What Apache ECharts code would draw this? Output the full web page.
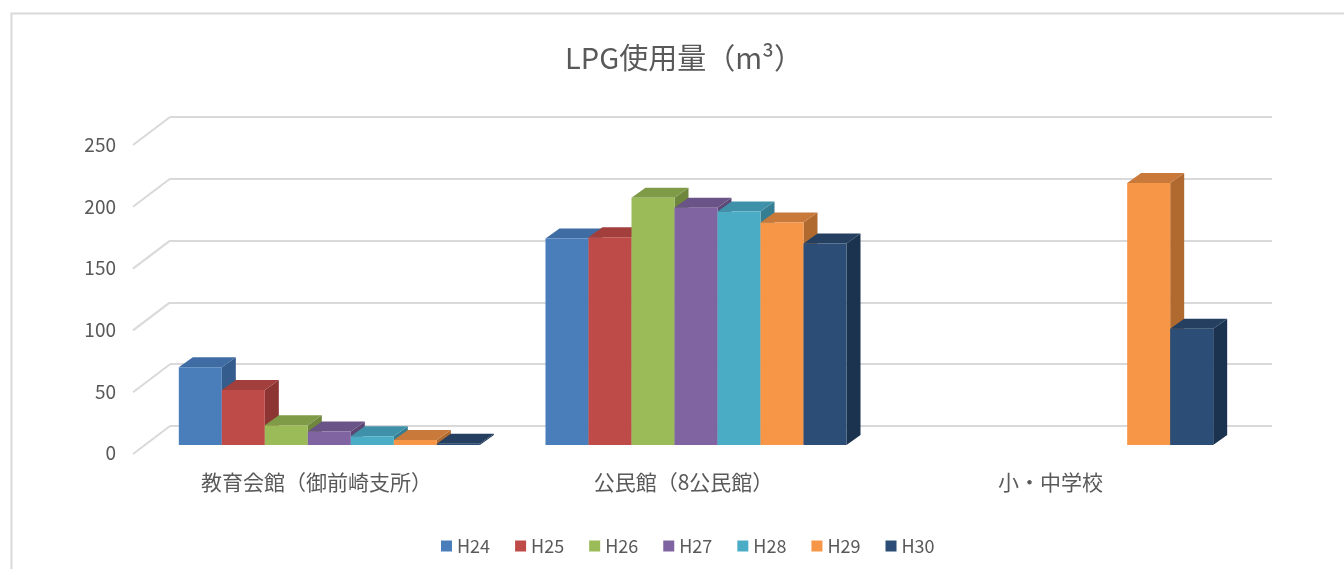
<!DOCTYPE html>
<html><head><meta charset="utf-8">
<script src="https://cdn.jsdelivr.net/npm/echarts@6/dist/echarts.min.js"></script>
<style>html,body{margin:0;padding:0;background:#fff}#c{width:1344px;height:569px}</style>
</head><body><div id="c"></div>
<script>
// ---- data ----
var categories = ['教育会館（御前崎支所）', '公民館（8公民館）', '小・中学校'];
var seriesNames = ['H24', 'H25', 'H26', 'H27', 'H28', 'H29', 'H30'];
var H24 = [63, 167, null];
var H25 = [44.5, 168, null];
var H26 = [16, 200, null];
var H27 = [11, 192, null];
var H28 = [7, 189, null];
var H29 = [4, 180, 212];
var H30 = [1, 163, 94];
var yTicks = [0, 50, 100, 150, 200, 250];
var seriesValues = [H24, H25, H26, H27, H28, H29, H30];

// ---- style ----
var FRONT = ['#4A7EBB', '#BE4B48', '#9BBB59', '#8064A2', '#4BACC6', '#F79646', '#2C4D75'];
var TOP =   ['#3F6DA3', '#A23F3D', '#7F9B47', '#6A5387', '#3E91A8', '#C9793A', '#243F60'];
var SIDE =  ['#345C8C', '#8C3533', '#6E873C', '#5C4775', '#357D91', '#B06A30', '#1C3350'];
var DX = 14, DY = -10;          // bar depth
var WX = 37, WY = -28;          // wall depth
var GROUP_RATIO = 0.821;
var FONT = '"Noto Sans CJK JP", "Noto Sans", sans-serif';
var TXT = '#595959';

var chart = echarts.init(document.getElementById('c'), null, {renderer: 'canvas'});

function barRender(si) {
  return function (params, api) {
    var v = api.value(1);
    if (v == null || isNaN(v)) return;
    var ci = api.value(0);
    var base = api.coord([ci, 0]);
    var top = api.coord([ci, v]);
    var band = api.size([1, 0])[0];
    var w = band * GROUP_RATIO / 7;
    var x0 = base[0] - band * GROUP_RATIO / 2 + si * w;
    var x1 = x0 + w;
    var yb = base[1], yt = top[1];
    return {
      type: 'group',
      children: [
        {type: 'polygon', shape: {points: [[x1, yb], [x1, yt], [x1 + DX, yt + DY], [x1 + DX, yb + DY]]},
          style: {fill: SIDE[si]}},
        {type: 'polygon', shape: {points: [[x0, yt], [x1, yt], [x1 + DX, yt + DY], [x0 + DX, yt + DY]]},
          style: {fill: TOP[si]}},
        {type: 'rect', shape: {x: x0, y: yt, width: w, height: yb - yt},
          style: {fill: FRONT[si]}}
      ]
    };
  };
}

var series = [];
// diagonal side-wall lines from back wall ticks
series.push({
  type: 'custom', name: 'wall', xAxisIndex: 0, yAxisIndex: 0, silent: true, z: 1,
  data: yTicks.map(function (t) { return [0, t]; }),
  encode: {x: 0, y: 1},
  renderItem: function (params, api) {
    var p = api.coord([0, api.value(1)]);
    return {type: 'line', shape: {x1: p[0] - WX, y1: p[1] - WY, x2: p[0], y2: p[1]},
      style: {stroke: '#d9d9d9', lineWidth: 2}};
  }
});
seriesValues.forEach(function (vals, si) {
  series.push({
    type: 'custom', name: seriesNames[si], xAxisIndex: 1, yAxisIndex: 1, z: 5 + si,
    itemStyle: {color: FRONT[si]},
    data: vals.map(function (v, i) { return [i, v]; }),
    encode: {x: 0, y: 1},
    renderItem: barRender(si)
  });
});

chart.setOption({
  animation: false,
  backgroundColor: '#ffffff',
  title: {
    text: 'LPG使用量（m³）', left: 679, top: 38, textAlign: 'center',
    textStyle: {fontFamily: FONT, fontSize: 29, fontWeight: 'normal', color: TXT}
  },
  legend: {
    data: seriesNames, left: 436, top: 532, icon: 'rect', itemWidth: 11, itemHeight: 11,
    itemGap: 25, textStyle: {fontFamily: FONT, fontSize: 18, color: TXT}
  },
  graphic: [{
    type: 'rect', shape: {x: 11.5, y: 13.5, width: 1400, height: 600}, silent: true,
    style: {fill: 'none', stroke: '#d9d9d9', lineWidth: 2}, z: -1
  }],
  grid: [
    {left: 170, right: 72, top: 117, bottom: 143},   // back wall
    {left: 146, right: 98, top: 136, bottom: 124},   // bar front plane
    {left: 133, right: 110, top: 145, bottom: 116}   // front edge (labels)
  ],
  xAxis: [
    {gridIndex: 0, type: 'value', min: 0, max: 1, show: false},
    {gridIndex: 1, type: 'category', data: categories, show: false},
    {gridIndex: 2, type: 'category', data: categories,
      axisLine: {show: false}, axisTick: {show: false},
      axisLabel: {margin: 19, fontFamily: FONT, fontSize: 21, color: TXT}}
  ],
  yAxis: [
    {gridIndex: 0, type: 'value', min: 0, max: 250, interval: 50,
      axisLine: {show: false}, axisTick: {show: false}, axisLabel: {show: false},
      splitLine: {show: true, lineStyle: {color: '#d9d9d9', width: 2}}},
    {gridIndex: 1, type: 'value', min: 0, max: 250, interval: 50, show: false},
    {gridIndex: 2, type: 'value', min: 0, max: 250, interval: 50,
      axisLine: {show: false}, axisTick: {show: false}, splitLine: {show: false},
      axisLabel: {margin: 17, fontFamily: FONT, fontSize: 19, color: TXT}}
  ],
  series: series
});
</script>
</body></html>
